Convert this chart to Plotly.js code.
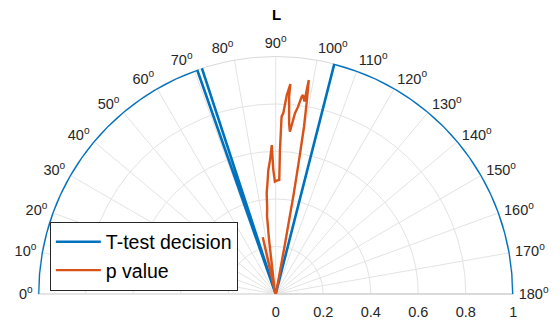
<!DOCTYPE html>
<html>
<head>
<meta charset="utf-8">
<script src="https://cdn.plot.ly/plotly-3.0.1.min.js"></script>
<style>html,body{margin:0;padding:0;background:#fff;}#chart{width:560px;height:323px;}</style>
</head>
<body>
<div id="chart"></div>
<script>
// T-test decision (1 = reject, 0 = accept) against angle in degrees
var decisionTheta = [0, 5, 10, 15, 20, 25, 30, 35, 40, 45, 50, 55, 60, 65, 70, 70.7, 71.3, 71.9, 72.3, 104.0, 104.3, 110, 115, 120, 125, 130, 135, 140, 145, 150, 155, 160, 165, 170, 175, 180];
var decisionR     = [1, 1, 1, 1, 1, 1, 1, 1, 1, 1, 1, 1, 1, 1, 1, 1, 0, 1, 0, 0, 1, 1, 1, 1, 1, 1, 1, 1, 1, 1, 1, 1, 1, 1, 1, 1];

// p value against angle in degrees
var pTheta = [0, 20, 40, 60, 70, 74, 76.5, 77.0, 77.2, 77.8, 79, 81, 82.5, 83.0, 83.7, 84.3, 84.9, 85.8, 86.6, 87.6, 88.5, 88.9, 89.6, 90.8, 91.8, 91.7, 91.9, 92.4, 93.2, 94.0, 93.9, 94.5, 95.0, 96.1, 96.8, 97.5, 97.8, 98.5, 98.8, 99.2, 99.6, 99.9, 100.2, 100.5, 101.0, 102, 110, 130, 150, 170, 180];
var pR     = [0.0, 0.0, 0.0, 0.0, 0.005, 0.01, 0.03, 0.15, 0.245, 0.06, 0.03, 0.05, 0.12, 0.229, 0.334, 0.36, 0.427, 0.47, 0.523, 0.565, 0.627, 0.522, 0.473, 0.478, 0.48, 0.606, 0.747, 0.761, 0.839, 0.886, 0.832, 0.72, 0.686, 0.765, 0.793, 0.838, 0.845, 0.819, 0.911, 0.814, 0.715, 0.575, 0.43, 0.22, 0.06, 0.01, 0.0, 0.0, 0.0, 0.0, 0.0];

var angTickVals = [0, 10, 20, 30, 40, 50, 60, 70, 80, 90, 100, 110, 120, 130, 140, 150, 160, 170, 180];
var angTickText = ['0<sup>o</sup>', '10<sup>o</sup>', '20<sup>o</sup>', '30<sup>o</sup>', '40<sup>o</sup>', '50<sup>o</sup>', '60<sup>o</sup>', '70<sup>o</sup>', '80<sup>o</sup>', '90<sup>o</sup>', '100<sup>o</sup>', '110<sup>o</sup>', '120<sup>o</sup>', '130<sup>o</sup>', '140<sup>o</sup>', '150<sup>o</sup>', '160<sup>o</sup>', '170<sup>o</sup>', '180<sup>o</sup>'];
var radTickVals = [0, 0.2, 0.4, 0.6, 0.8, 1];
var radTickText = ['0', '0.2', '0.4', '0.6', '0.8', '1'];

var traces = [
  {type: 'scatterpolar', mode: 'lines', name: 'T-test decision',
   theta: decisionTheta, r: decisionR, cliponaxis: false,
   line: {color: '#0072BD', width: 2.6}},
  {type: 'scatterpolar', mode: 'lines', name: 'p value',
   theta: pTheta, r: pR, cliponaxis: false,
   line: {color: '#D95319', width: 2.4}}
];

var layout = {
  width: 560, height: 323,
  margin: {l: 0, r: 0, t: 0, b: 0},
  paper_bgcolor: '#ffffff',
  font: {family: 'Liberation Sans, Arial, sans-serif', color: '#262626', size: 14},
  title: {text: '<b>L</b>', x: 0.494, xanchor: 'center', y: 0.953, yanchor: 'middle',
          font: {size: 15, color: '#000000', family: 'Liberation Sans, Arial, sans-serif'}},
  showlegend: true,
  legend: {x: 0.089, y: 0.314, xanchor: 'left', yanchor: 'top',
           bgcolor: '#ffffff', bordercolor: '#262626', borderwidth: 1,
           itemwidth: 45,
           font: {size: 19.5, color: '#000000'}},
  polar: {
    domain: {x: [0.068, 0.9166], y: [0.0898, 0.8254]},
    sector: [0, 180],
    bgcolor: '#ffffff',
    angularaxis: {
      rotation: 180, direction: 'clockwise', layer: 'below traces',
      tickmode: 'array', tickvals: angTickVals, ticktext: angTickText,
      ticks: 'outside', ticklen: 2, tickcolor: 'rgba(0,0,0,0)',
      showline: true, linecolor: '#d9d9d9', linewidth: 1,
      gridcolor: '#e3e3e3', gridwidth: 1,
      tickfont: {size: 14.5, color: '#262626'}
    },
    radialaxis: {
      range: [0, 1], angle: 0, side: 'clockwise', layer: 'below traces',
      tickmode: 'array', tickvals: radTickVals, ticktext: radTickText,
      ticks: 'outside', ticklen: 5, tickcolor: 'rgba(0,0,0,0)',
      showline: true, linecolor: '#cfcfcf', linewidth: 1,
      gridcolor: '#e3e3e3', gridwidth: 1,
      tickfont: {size: 14.5, color: '#262626'}
    }
  }
};

Plotly.newPlot('chart', traces, layout, {staticPlot: true, displayModeBar: false});
</script>
</body>
</html>
